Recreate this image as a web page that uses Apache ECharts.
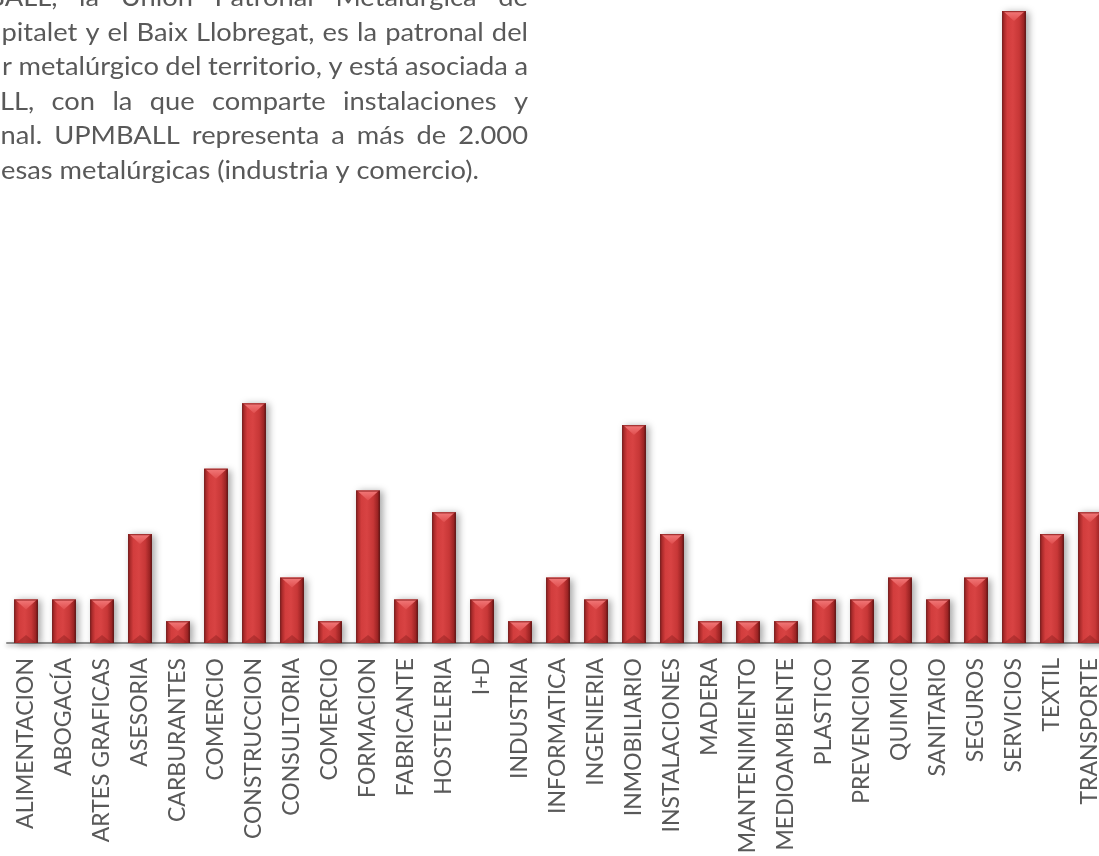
<!DOCTYPE html>
<html>
<head>
<meta charset="utf-8">
<script src="https://cdn.jsdelivr.net/npm/echarts@6/dist/echarts.min.js"></script>
<style>
html,body{margin:0;padding:0;background:#fff;}
#chart{width:1099px;height:856px;}
</style>
</head>
<body>
<div id="chart"></div>
<script>
// ---- data ----
var categories = ['ALIMENTACION','ABOGACÍA','ARTES GRAFICAS','ASESORIA','CARBURANTES','COMERCIO','CONSTRUCCION','CONSULTORIA','COMERCIO','FORMACION','FABRICANTE','HOSTELERIA','I+D','INDUSTRIA','INFORMATICA','INGENIERIA','INMOBILIARIO','INSTALACIONES','MADERA','MANTENIMIENTO','MEDIOAMBIENTE','PLASTICO','PREVENCION','QUIMICO','SANITARIO','SEGUROS','SERVICIOS','TEXTIL','TRANSPORTE'];
var values = [2,2,2,5,1,8,11,3,1,7,2,6,2,1,3,2,10,5,1,1,1,2,2,3,2,3,29,5,6];
var paragraphLines = [
  'BALL, la Unión Patronal Metalúrgica de',
  'pitalet y el Baix Llobregat, es la patronal del',
  'r metalúrgico del territorio, y está asociada a',
  'LL, con la que comparte instalaciones y',
  'nal. UPMBALL representa a más de 2.000',
  'esas metalúrgicas (industria y comercio).'
];

// ---- layout helpers ----
var LABEL_SIZE = 23;
var TEXT_COLOR = '#595959';
var P_SIZE = 25;
var P_FONT = P_SIZE + 'px Lato';
var cvs = document.createElement('canvas');
var ctx = cvs.getContext('2d');
ctx.font = P_FONT;
var lastLineTarget = 479;
var SX = (lastLineTarget - 1) / ctx.measureText(paragraphLines[5]).width;
function mw(s){ return ctx.measureText(s).width * SX; }

var lineStarts = [5 - mw('B'), 1.5, 2, 0, 0.5, 1];
var baselines = [5.5, 40, 74.5, 109, 143.5, 178];
var rightEdge = 528;
var justified = [true, true, true, true, true, false];

var graphics = [];
paragraphLines.forEach(function(line, li){
  var words = line.split(' ');
  var widths = words.map(mw);
  var total = widths.reduce(function(a,b){return a+b;},0);
  var gap = justified[li] ? (rightEdge - lineStarts[li] - total) / (words.length - 1) : mw(' ');
  var x = lineStarts[li];
  words.forEach(function(w, wi){
    graphics.push({
      type:'text', silent:true,
      x:x, y:baselines[li] - 0.387 * P_SIZE + 2.5, scaleX:SX, scaleY:1,
      style:{ text:w, x:0, y:0, font:P_FONT, fill:TEXT_COLOR, verticalAlign:'middle', align:'left' }
    });
    x += widths[wi] + gap;
  });
});

var sideGrad = new echarts.graphic.LinearGradient(0,0,1,0,[
  {offset:0, color:'#6e1818'},
  {offset:0.08, color:'#a82a2a'},
  {offset:0.22, color:'#d23d3d'},
  {offset:0.45, color:'#d84343'},
  {offset:0.72, color:'#c73737'},
  {offset:0.9, color:'#9c2424'},
  {offset:1, color:'#5a1111'}
]);
var topGrad = new echarts.graphic.LinearGradient(0,0,0,1,[
  {offset:0, color:'#f27a7a'},
  {offset:1, color:'#e04e4e'}
]);

function renderBar(params, api){
  var idx = api.value(0), v = api.value(1);
  var top = api.coord([idx, v]);
  var base = api.coord([idx, 0]);
  var w = api.size([1,0])[0] * 0.63;
  var x0 = top[0] - w/2, y0 = top[1], h = base[1] - top[1];
  var bev = Math.min(10, h/2);
  return {
    type:'group',
    children:[
      {type:'rect', shape:{x:x0, y:y0, width:w, height:h},
        style:{fill:sideGrad, shadowBlur:7, shadowOffsetX:3, shadowOffsetY:1, shadowColor:'rgba(0,0,0,0.35)'}},
      {type:'polygon', shape:{points:[[x0+1,y0],[x0+w-1,y0],[x0+w/2,y0+bev]]},
        style:{fill:topGrad}},
      {type:'polygon', shape:{points:[[x0+2,y0+h],[x0+w-2,y0+h],[x0+w/2,y0+h-Math.min(8,h/2)]]},
        style:{fill:'rgba(120,20,20,0.35)'}},
      {type:'rect', shape:{x:x0, y:y0, width:w, height:1.2},
        style:{fill:'rgba(140,30,30,0.8)'}}
    ]
  };
}

var chart = echarts.init(document.getElementById('chart'), null, {renderer:'canvas'});
chart.setOption({
  animation:false,
  backgroundColor:'#ffffff',
  grid:{left:7, top:11, width:1102, height:632, containLabel:false, outerBoundsMode:'none'},
  xAxis:{
    type:'category',
    data:categories,
    axisLine:{show:true, lineStyle:{color:'#8c8c8c', width:2, shadowBlur:4, shadowOffsetY:2, shadowColor:'rgba(0,0,0,0.3)'}},
    axisTick:{show:false},
    axisLabel:{rotate:90, interval:0, margin:15, color:TEXT_COLOR, fontFamily:'Lato', fontSize:LABEL_SIZE}
  },
  yAxis:{type:'value', min:0, max:29, show:false, splitLine:{show:false}},
  series:[{
    type:'custom',
    renderItem:renderBar,
    data:values.map(function(v,i){return [i,v];}),
    encode:{x:0, y:1},
    z:2
  }],
  graphic:graphics
});
</script>
</body>
</html>
